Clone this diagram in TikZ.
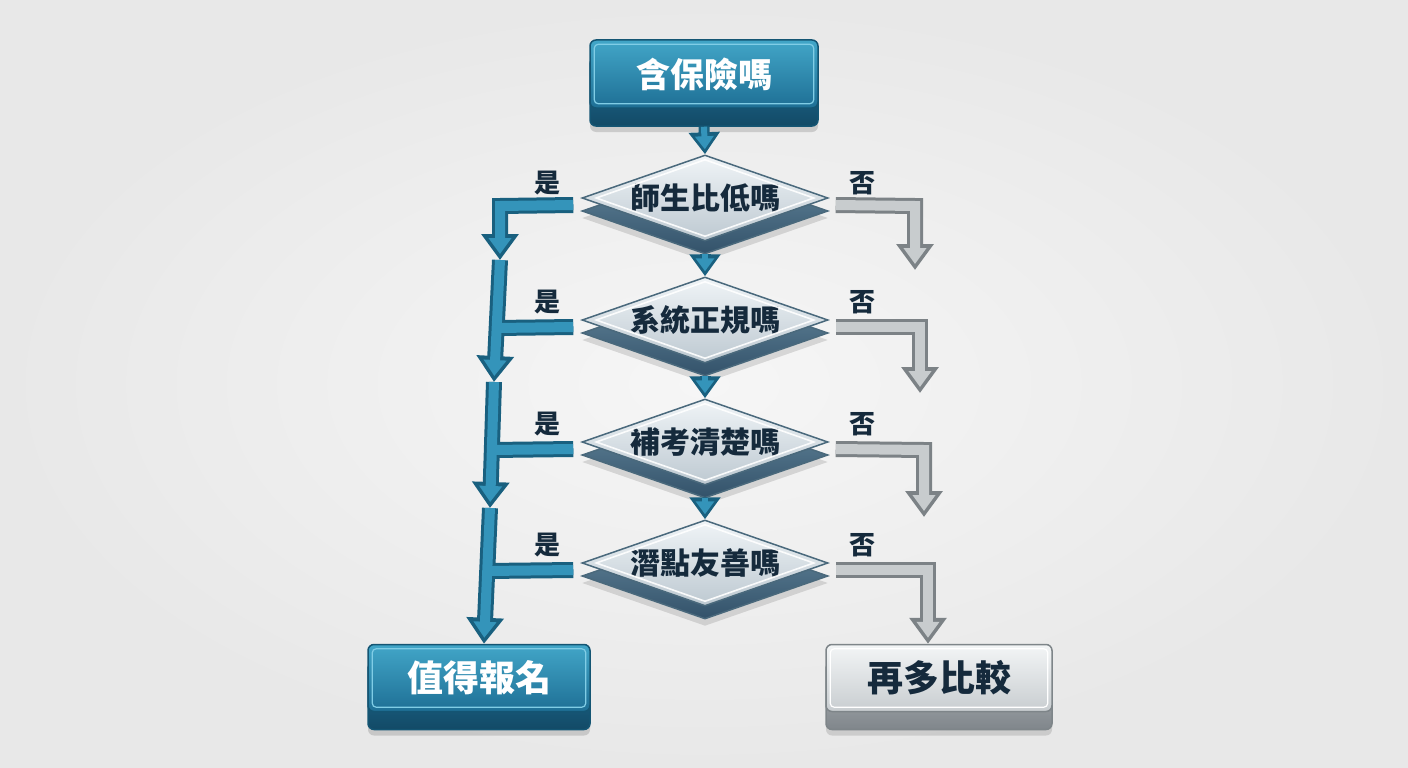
\documentclass[tikz,border=0pt]{standalone}
\usepackage{fontspec}
\newfontfamily\cjk{Noto Sans CJK TC}
\usetikzlibrary{shapes.geometric,arrows.meta,shadows,calc}
\definecolor{bgIn}{HTML}{F6F6F6}
\definecolor{bgOut}{HTML}{E8E8E8}
\definecolor{blueTop}{HTML}{42A6C8}
\definecolor{blueBot}{HTML}{1E6F95}
\definecolor{blueEdge}{HTML}{145573}
\definecolor{blueDepthTop}{HTML}{22719A}
\definecolor{blueDepthBot}{HTML}{124A66}
\definecolor{blueHi}{HTML}{80CDE6}
\definecolor{grayTop}{HTML}{F3F5F6}
\definecolor{grayBot}{HTML}{C8CDD0}
\definecolor{grayEdge}{HTML}{7E8589}
\definecolor{grayDepthTop}{HTML}{B4B9BD}
\definecolor{grayDepthBot}{HTML}{80868B}
\definecolor{diaTop}{HTML}{F0F4F7}
\definecolor{diaBot}{HTML}{BDC9D1}
\definecolor{diaEdge}{HTML}{4A697C}
\definecolor{diaDepthTop}{HTML}{65889D}
\definecolor{diaDepthBot}{HTML}{33526A}
\definecolor{txt}{HTML}{152A3C}
\definecolor{yesDark}{HTML}{19607F}
\definecolor{yesMid}{HTML}{3494BA}
\definecolor{noDark}{HTML}{7C8286}
\definecolor{noMid}{HTML}{C8CCCE}
\newcommand\yespaths[2]{%
  \draw[#1,#2] ([xshift=-8pt,yshift=-7pt]d1.west) -- (j1) -- (a1);
  \draw[#1,#2] (a1) -- (a2);
  \draw[#1,#2] (a2) -- (a3);
  \draw[#1,#2] (a3) -- ([xshift=5pt]yes.north);
  \draw[#1] ([xshift=-8pt,yshift=-7pt]d2.west) -- (j2);
  \draw[#1] ([xshift=-8pt,yshift=-7pt]d3.west) -- (j3);
  \draw[#1] ([xshift=-8pt,yshift=-7pt]d4.west) -- (j4);
}
\newcommand\nopaths[2]{%
  \draw[#1,#2] ([xshift=7pt,yshift=-7pt]d1.east) -- (k1) -- (n1);
  \draw[#1,#2] ([xshift=7pt,yshift=-7pt]d2.east) -- (k2) -- (n2);
  \draw[#1,#2] ([xshift=7pt,yshift=-7pt]d3.east) -- (k3) -- (n3);
  \draw[#1,#2] ([xshift=7pt,yshift=-7pt]d4.east) -- (k4) -- ([xshift=-11pt]no.north);
}
\newcommand\downpaths[2]{%
  \draw[#1,#2] ([yshift=-18pt]start.south) -- (d1.north);
  \draw[#1,#2] ([yshift=-12pt]d1.south) -- (d2.north);
  \draw[#1,#2] ([yshift=-12pt]d2.south) -- (d3.north);
  \draw[#1,#2] ([yshift=-12pt]d3.south) -- (d4.north);
}
\begin{document}
\begin{tikzpicture}[x=1pt,y=-1pt,
  boxbase/.style={rectangle, rounded corners=6pt, minimum width=226pt, minimum height=68pt,
    line width=1.5pt, font=\cjk\bfseries\fontsize{34}{38}\selectfont},
  bluebox/.style={boxbase, draw=blueEdge, top color=blueTop, bottom color=blueBot, text=white,
    general shadow={fill=black, opacity=.14, shadow yshift=-24pt},
    general shadow={top color=blueDepthTop, bottom color=blueDepthBot, draw=blueEdge, shadow yshift=-18pt}},
  graybox/.style={boxbase, draw=grayEdge, top color=grayTop, bottom color=grayBot, text=txt,
    general shadow={fill=black, opacity=.12, shadow yshift=-24pt},
    general shadow={top color=grayDepthTop, bottom color=grayDepthBot, draw=grayEdge, shadow yshift=-18pt}},
  dia/.style={diamond, aspect=2.86, minimum width=246pt, minimum height=86pt, inner sep=0pt,
    draw=diaEdge, line width=1.5pt, top color=diaTop, bottom color=diaBot, text=txt,
    font=\cjk\bfseries\fontsize{30}{34}\selectfont,
    general shadow={fill=black, opacity=.12, shadow yshift=-20pt},
    general shadow={top color=diaDepthTop, bottom color=diaDepthBot, draw=diaEdge, shadow yshift=-13pt}},
  diain/.style={draw=white, line width=1.6pt, opacity=.9},
  boxin/.style={line width=1.2pt, rounded corners=4pt},
  lab/.style={text=txt, font=\cjk\bfseries\fontsize{26}{28}\selectfont},
  yesout/.style={draw=yesDark, line width=16pt, line join=miter},
  yesin/.style={draw=yesMid, line width=10pt, line join=miter},
  noout/.style={draw=noDark, line width=16pt, line join=miter},
  noin/.style={draw=noMid, line width=10pt, line join=miter},
  dnout/.style={draw=yesDark, line width=11pt},
  dnin/.style={draw=yesMid, line width=6pt},
  outtip/.style={-{Triangle[width=36pt,length=26pt]}},
  intip/.style={shorten >=6pt, -{Triangle[width=22pt,length=16pt]}},
  dnouttip/.style={-{Triangle[width=30pt,length=22pt]}},
  dnintip/.style={shorten >=5pt, -{Triangle[width=18pt,length=13pt]}}
]
\useasboundingbox (0,0) rectangle (1408,768);
\shade[inner color=bgIn, outer color=bgOut] (0,0) rectangle (1408,768);

% nodes
\node[bluebox, minimum width=228pt] (start) at (704,74) {含保險嗎};
\node[dia] (d1) at (705,198) {師生比低嗎};
\node[dia] (d2) at (705,320) {系統正規嗎};
\node[dia] (d3) at (705,442) {補考清楚嗎};
\node[dia] (d4) at (705,563) {潛點友善嗎};
\node[bluebox, minimum width=222pt, minimum height=67pt, font=\cjk\bfseries\fontsize{36}{40}\selectfont] (yes) at (479,678) {值得報名};
\node[graybox, minimum width=226pt, minimum height=67pt, font=\cjk\bfseries\fontsize{36}{40}\selectfont] (no) at (939,678) {再多比較};

% inner bevel lines
\draw[boxin, draw=blueHi] ([shift={(5pt,-5pt)}]start.north west) rectangle ([shift={(-5pt,5pt)}]start.south east);
\draw[boxin, draw=blueHi] ([shift={(5pt,-5pt)}]yes.north west) rectangle ([shift={(-5pt,5pt)}]yes.south east);
\draw[boxin, draw=white] ([shift={(5pt,-5pt)}]no.north west) rectangle ([shift={(-5pt,5pt)}]no.south east);
\foreach \d in {d1,d2,d3,d4}
  \draw[diain] ([yshift=-5.5pt]\d.north) -- ([xshift=-15pt]\d.east) -- ([yshift=5.5pt]\d.south) -- ([xshift=15pt]\d.west) -- cycle;

% labels
\foreach \y [count=\i] in {183,302,424,545} {
  \node[lab] (yl\i) at (547,\y) {是};
  \node[lab] (nl\i) at (862,\y) {否};
}

% connector coordinates
\coordinate (j1) at (500,206); \coordinate (a1) at (500,260);
\coordinate (j2) at (497,328); \coordinate (a2) at (494,382);
\coordinate (j3) at (492,450); \coordinate (a3) at (490,508);
\coordinate (j4) at (487,571);
\coordinate (k1) at (915,206); \coordinate (n1) at (915,270);
\coordinate (k2) at (920,327); \coordinate (n2) at (920,393);
\coordinate (k3) at (924,450); \coordinate (n3) at (924,517);
\coordinate (k4) at (928,570);

% connectors
\downpaths{dnout}{dnouttip}
\downpaths{dnin}{dnintip}
\yespaths{yesout}{outtip}
\yespaths{yesin}{intip}
\nopaths{noout}{outtip}
\nopaths{noin}{intip}
\end{tikzpicture}
\end{document}
